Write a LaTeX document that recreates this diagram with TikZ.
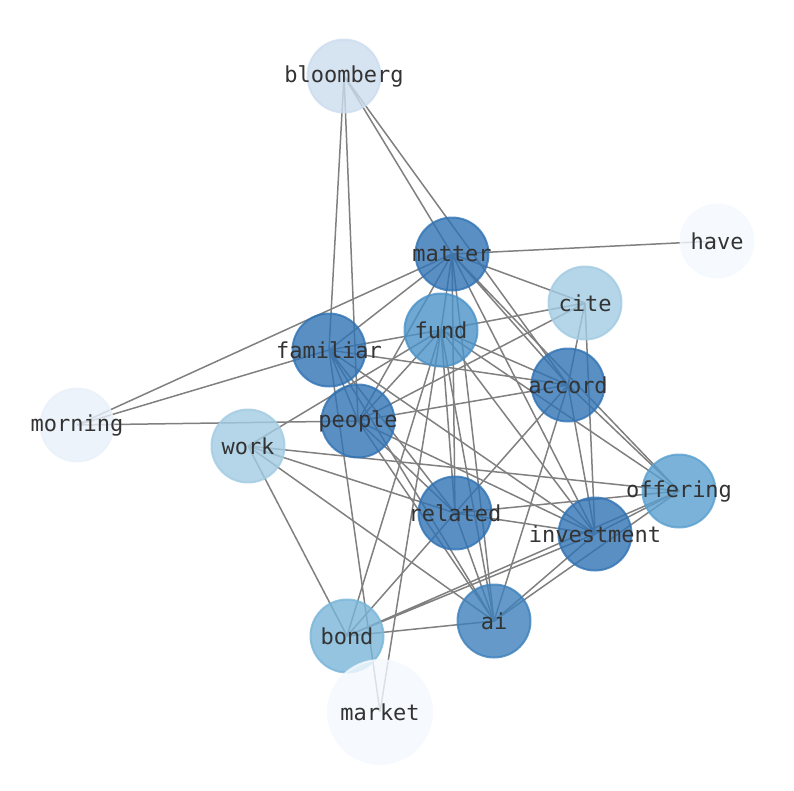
\documentclass[tikz,border=0pt]{standalone}
\usepackage{fontspec}
\setmonofont{DejaVu Sans Mono}
\usetikzlibrary{backgrounds}

\definecolor{shadeA}{RGB}{49,115,180}
\definecolor{shadeB}{RGB}{61,128,187}
\definecolor{shadeC}{RGB}{74,146,200}
\definecolor{shadeD}{RGB}{89,159,207}
\definecolor{shadeE}{RGB}{121,181,216}
\definecolor{shadeF}{RGB}{162,203,226}
\definecolor{shadeG}{RGB}{204,221,239}
\definecolor{shadeH}{RGB}{233,240,249}
\definecolor{shadeI}{RGB}{244,249,254}
\definecolor{linkgray}{RGB}{128,128,128}

\begin{document}
\begin{tikzpicture}[x=1pt, y=-1pt,
  word/.style = {circle, draw=#1, fill=#1, minimum size=73pt, inner sep=0pt, line width=2pt,
    fill opacity=0.8, draw opacity=0.8},
  every label/.style = {text=black!80, inner sep=0pt, font=\ttfamily\fontsize{22}{22}\selectfont},
  link/.style = {draw=linkgray, line width=1.5pt}]
\useasboundingbox (0,0) rectangle (794,790);

\node[word=shadeG, label=center:bloomberg] (bloomberg) at (344,76) {};
\node[word=shadeI, label=center:have] (have) at (717,241) {};
\node[word=shadeA, label=center:matter] (matter) at (452,254) {};
\node[word=shadeF, label=center:cite] (cite) at (585,303) {};
\node[word=shadeC, label=center:fund] (fund) at (441,330) {};
\node[word=shadeA, label=center:familiar] (familiar) at (329,350) {};
\node[word=shadeA, label=center:accord] (accord) at (568,385) {};
\node[word=shadeH, label=center:morning] (morning) at (77,425) {};
\node[word=shadeA, label=center:people] (people) at (358,421) {};
\node[word=shadeF, label=center:work] (work) at (248,446) {};
\node[word=shadeD, label=center:offering] (offering) at (679,491) {};
\node[word=shadeA, label=center:related] (related) at (455,513) {};
\node[word=shadeA, label=center:investment] (investment) at (595,534) {};
\node[word=shadeB, label=center:ai] (ai) at (494,621) {};
\node[word=shadeE, label=center:bond] (bond) at (347,636) {};
\node[word=shadeI, minimum size=104pt, label=center:market] (market) at (380,712) {};

% edges go under the words
\begin{scope}[on background layer]
\draw[link] (bloomberg.center) -- (familiar.center) (bloomberg.center) -- (people.center)
  (bloomberg.center) -- (matter.center) (bloomberg.center) -- (accord.center);
\draw[link] (have.center) -- (matter.center);
\draw[link] (morning.center) -- (matter.center) (morning.center) -- (familiar.center)
  (morning.center) -- (people.center);
\draw[link] (market.center) -- (familiar.center) (market.center) -- (fund.center);
\draw[link] (cite.center) -- (matter.center) (cite.center) -- (fund.center)
  (cite.center) -- (people.center) (cite.center) -- (accord.center)
  (cite.center) -- (investment.center);
\draw[link] (work.center) -- (fund.center) (work.center) -- (offering.center)
  (work.center) -- (related.center) (work.center) -- (ai.center)
  (work.center) -- (bond.center);
\draw[link] (bond.center) -- (related.center) (bond.center) -- (investment.center)
  (bond.center) -- (offering.center) (bond.center) -- (ai.center)
  (bond.center) -- (fund.center);
\draw[link] (matter.center) -- (familiar.center) (matter.center) -- (people.center)
  (matter.center) -- (fund.center) (matter.center) -- (accord.center)
  (matter.center) -- (investment.center) (matter.center) -- (offering.center)
  (matter.center) -- (related.center) (matter.center) -- (ai.center);
\draw[link] (fund.center) -- (familiar.center) (fund.center) -- (people.center)
  (fund.center) -- (accord.center) (fund.center) -- (investment.center)
  (fund.center) -- (offering.center) (fund.center) -- (related.center)
  (fund.center) -- (ai.center);
\draw[link] (familiar.center) -- (accord.center) (familiar.center) -- (people.center)
  (familiar.center) -- (related.center) (familiar.center) -- (ai.center)
  (familiar.center) -- (investment.center);
\draw[link] (people.center) -- (accord.center) (people.center) -- (related.center)
  (people.center) -- (investment.center) (people.center) -- (ai.center);
\draw[link] (accord.center) -- (related.center) (accord.center) -- (ai.center)
  (accord.center) -- (investment.center) (accord.center) -- (offering.center);
\draw[link] (related.center) -- (investment.center) (related.center) -- (offering.center)
  (related.center) -- (ai.center);
\draw[link] (investment.center) -- (offering.center) (investment.center) -- (ai.center);
\draw[link] (offering.center) -- (ai.center);
\end{scope}
\end{tikzpicture}
\end{document}
